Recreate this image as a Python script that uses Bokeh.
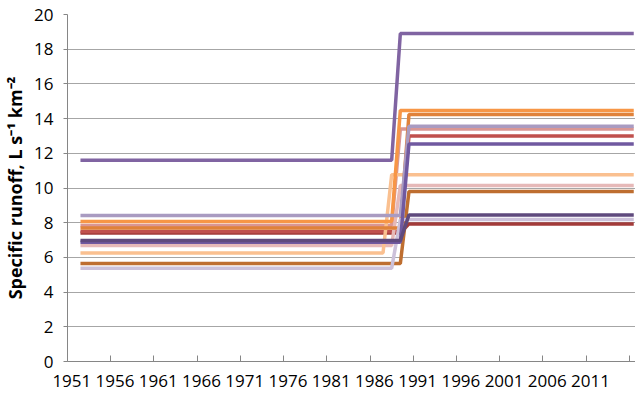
from bokeh.plotting import figure
from bokeh.models import Range1d, FixedTicker
from bokeh.embed import file_html
from bokeh.resources import INLINE

# ---- data ----
years = list(range(1952, 2017))
series_names = ["dark red", "red", "rose", "pink", "peach", "brown", "dark orange",
                "orange", "light lavender", "lavender", "purple 2", "dark purple", "purple"]
series_colors = ["#A33B3A", "#C0504D", "#D99694", "#E6B9B8", "#FAC090", "#BE6E30", "#E0823A",
                 "#F79646", "#CCC1DA", "#A99BC1", "#7059A0", "#5F4A7D", "#8064A2"]
before_values = [7.40, 7.49, 7.84, 6.69, 6.26, 5.65, 7.70, 8.07, 5.38, 8.41, 6.88, 6.97, 11.6]
after_values = [7.93, 12.99, 13.40, 10.14, 10.76, 9.80, 14.24, 14.47, 8.18, 13.56, 12.54, 8.45, 18.9]
last_year_before = [1989, 1989, 1988, 1988, 1987, 1989, 1989, 1988, 1988, 1989, 1989, 1989, 1988]
x_tick_labels = [1951, 1956, 1961, 1966, 1971, 1976, 1981, 1986, 1991, 1996, 2001, 2006, 2011]
y_ticks = list(range(0, 21, 2))

FONT = "Open Sans"

p = figure(frame_width=568, frame_height=347, output_backend="svg", toolbar_location=None,
           x_range=Range1d(1950.5, 1950.5 + 568 / 8.645), y_range=Range1d(0, 20),
           min_border_left=66, min_border_right=0, min_border_top=14, min_border_bottom=38)
p.outline_line_color = None
p.background_fill_color = "white"
p.border_fill_color = "white"

for name, col, b, a, ly in zip(series_names, series_colors, before_values, after_values, last_year_before):
    ys = [b if yr <= ly else a for yr in years]
    p.line(years, ys, line_color=col, line_width=3.5)

# x axis: labels at category centres, tick marks (inside) at category boundaries
xa = p.xaxis[0]
xa.ticker = FixedTicker(ticks=x_tick_labels,
                        minor_ticks=[t - 0.5 for t in x_tick_labels] + [2015.5])
xa.axis_line_color = "#868686"
xa.major_tick_line_color = None
xa.major_tick_in = 0
xa.major_tick_out = 0
xa.minor_tick_line_color = "#868686"
xa.minor_tick_in = 6
xa.minor_tick_out = 0
xa.major_label_text_font = FONT
xa.major_label_text_font_size = "17px"
xa.major_label_text_color = "#000000"
xa.major_label_standoff = 13

ya = p.yaxis[0]
ya.ticker = FixedTicker(ticks=y_ticks)
ya.axis_line_color = "#868686"
ya.major_tick_line_color = "#868686"
ya.major_tick_in = 0
ya.major_tick_out = 4
ya.minor_tick_line_color = None
ya.major_label_text_font = FONT
ya.major_label_text_font_size = "17px"
ya.major_label_text_color = "#000000"
ya.major_label_standoff = 10
ya.axis_label = "Specific runoff, L s\u207b\u00b9 km\u207b\u00b2"
ya.axis_label_text_font = FONT
ya.axis_label_text_font_size = "18px"
ya.axis_label_text_font_style = "bold"
ya.axis_label_text_color = "#000000"
ya.axis_label_standoff = 4

p.ygrid.ticker = FixedTicker(ticks=y_ticks)
p.ygrid.grid_line_color = "#A6A6A6"
p.ygrid.grid_line_width = 1
p.xgrid.grid_line_color = None

open("out.html", "w").write(file_html(p, INLINE))
